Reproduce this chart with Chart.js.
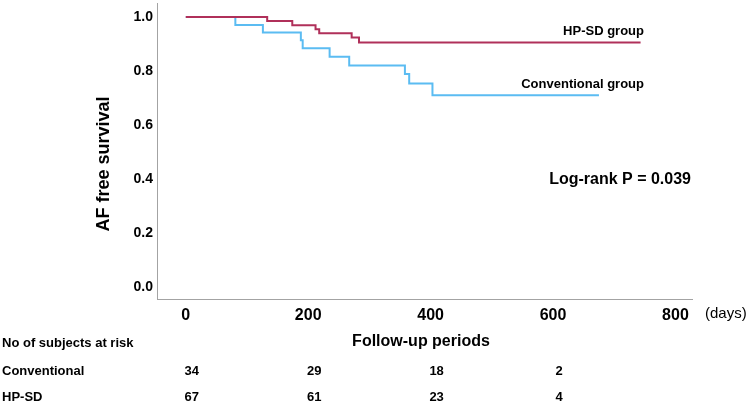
<!DOCTYPE html>
<html>
<head>
<meta charset="utf-8">
<script src="https://cdn.jsdelivr.net/npm/chart.js@4"></script>
<style>
  html, body { margin: 0; padding: 0; background: #fff; }
  #wrap { width: 750px; height: 404px; }
</style>
</head>
<body>
<div id="wrap"><canvas id="kmChart"></canvas></div>
<script>
// Kaplan-Meier steps (days, survival)
const conventionalDays = [0, 81, 126, 188, 191, 235, 267, 358, 365, 403, 675];
const conventionalSurv = [1.0, 0.971, 0.943, 0.914, 0.884, 0.853, 0.821, 0.789, 0.754, 0.710, 0.710];
const hpsdDays = [0, 133, 174, 212, 218, 271, 283, 743];
const hpsdSurv = [1.0, 0.985, 0.970, 0.955, 0.940, 0.924, 0.906, 0.906];

const xTickValues = [0, 200, 400, 600, 800];
const yTickValues = [0, 0.2, 0.4, 0.6, 0.8, 1.0];

// number at risk table
const riskTimes = [0, 200, 400, 600];
const riskConventional = [34, 29, 18, 2];
const riskHpsd = [67, 61, 23, 4];

const FONT = '"Liberation Sans", Arial, Helvetica, sans-serif';

function toPoints(xs, ys) {
    return xs.map((x, i) => ({ x: x, y: ys[i] }));
}

const textPlugin = {
    id: 'kmText',
    afterDraw(chart) {
        const ctx = chart.ctx;
        const xs = chart.scales.x;
        ctx.save();
        ctx.fillStyle = '#000';
        ctx.textBaseline = 'middle';

        // y axis title
        ctx.save();
        ctx.translate(104, 164);
        ctx.rotate(-Math.PI / 2);
        ctx.textAlign = 'center';
        ctx.font = 'bold 18px ' + FONT;
        ctx.fillText('AF free survival', 0, 0);
        ctx.restore();

        // curve labels
        ctx.textAlign = 'right';
        ctx.font = 'bold 13px ' + FONT;
        ctx.fillText('HP-SD group', 644, 31);
        ctx.fillText('Conventional group', 644, 84);

        ctx.font = 'bold 16px ' + FONT;
        ctx.fillText('Log-rank P = 0.039', 691, 180);

        ctx.textAlign = 'left';
        ctx.font = '15px ' + FONT;
        ctx.fillText('(days)', 705, 314);

        ctx.textAlign = 'center';
        ctx.font = 'bold 16px ' + FONT;
        ctx.fillText('Follow-up periods', 421, 342);

        // at risk table
        ctx.textAlign = 'left';
        ctx.font = 'bold 13px ' + FONT;
        ctx.fillText('No of subjects at risk', 2, 343);
        ctx.fillText('Conventional', 2, 371);
        ctx.fillText('HP-SD', 2, 397);

        ctx.textAlign = 'center';
        riskTimes.forEach((t, i) => {
            const px = xs.getPixelForValue(t) + 6;
            ctx.fillText(String(riskConventional[i]), px, 371);
            ctx.fillText(String(riskHpsd[i]), px, 397);
        });
        ctx.restore();
    }
};

new Chart(document.getElementById('kmChart'), {
    type: 'line',
    data: {
        datasets: [{
            label: 'HP-SD group',
            data: toPoints(hpsdDays, hpsdSurv),
            borderColor: '#b0305a',
            borderWidth: 2,
            stepped: true,
            pointRadius: 0,
            fill: false
        }, {
            label: 'Conventional group',
            data: toPoints(conventionalDays, conventionalSurv),
            borderColor: '#5bbcf2',
            borderWidth: 2,
            stepped: true,
            pointRadius: 0,
            fill: false
        }]
    },
    options: {
        responsive: true,
        maintainAspectRatio: false,
        animation: false,
        layout: { padding: { top: 3, right: 58, left: 0, bottom: 0 } },
        plugins: {
            legend: { display: false },
            tooltip: { enabled: false }
        },
        scales: {
            x: {
                type: 'linear',
                min: -47,
                max: 827,
                grid: { display: false, drawTicks: false },
                border: { display: true, color: '#a3a3a3', width: 1 },
                afterFit: (scale) => {
                    scale.height = 105;
                    scale.paddingLeft = 0;
                    scale.paddingRight = 0;
                },
                afterBuildTicks: (scale) => { scale.ticks = xTickValues.map(v => ({ value: v })); },
                ticks: {
                    color: '#000',
                    padding: 7,
                    font: { family: FONT, size: 16, weight: 'bold' },
                    maxRotation: 0
                }
            },
            y: {
                min: -0.044,
                max: 1.052,
                grid: { display: false, drawTicks: false },
                border: { display: true, color: '#a3a3a3', width: 1 },
                afterFit: (scale) => {
                    scale.width = 157;
                    scale.paddingTop = 0;
                    scale.paddingBottom = 0;
                },
                afterBuildTicks: (scale) => { scale.ticks = yTickValues.map(v => ({ value: v })); },
                ticks: {
                    color: '#000',
                    padding: 4,
                    font: { family: FONT, size: 14, weight: 'bold' },
                    callback: (v) => Number(v).toFixed(1)
                }
            }
        }
    },
    plugins: [textPlugin]
});
</script>
</body>
</html>
